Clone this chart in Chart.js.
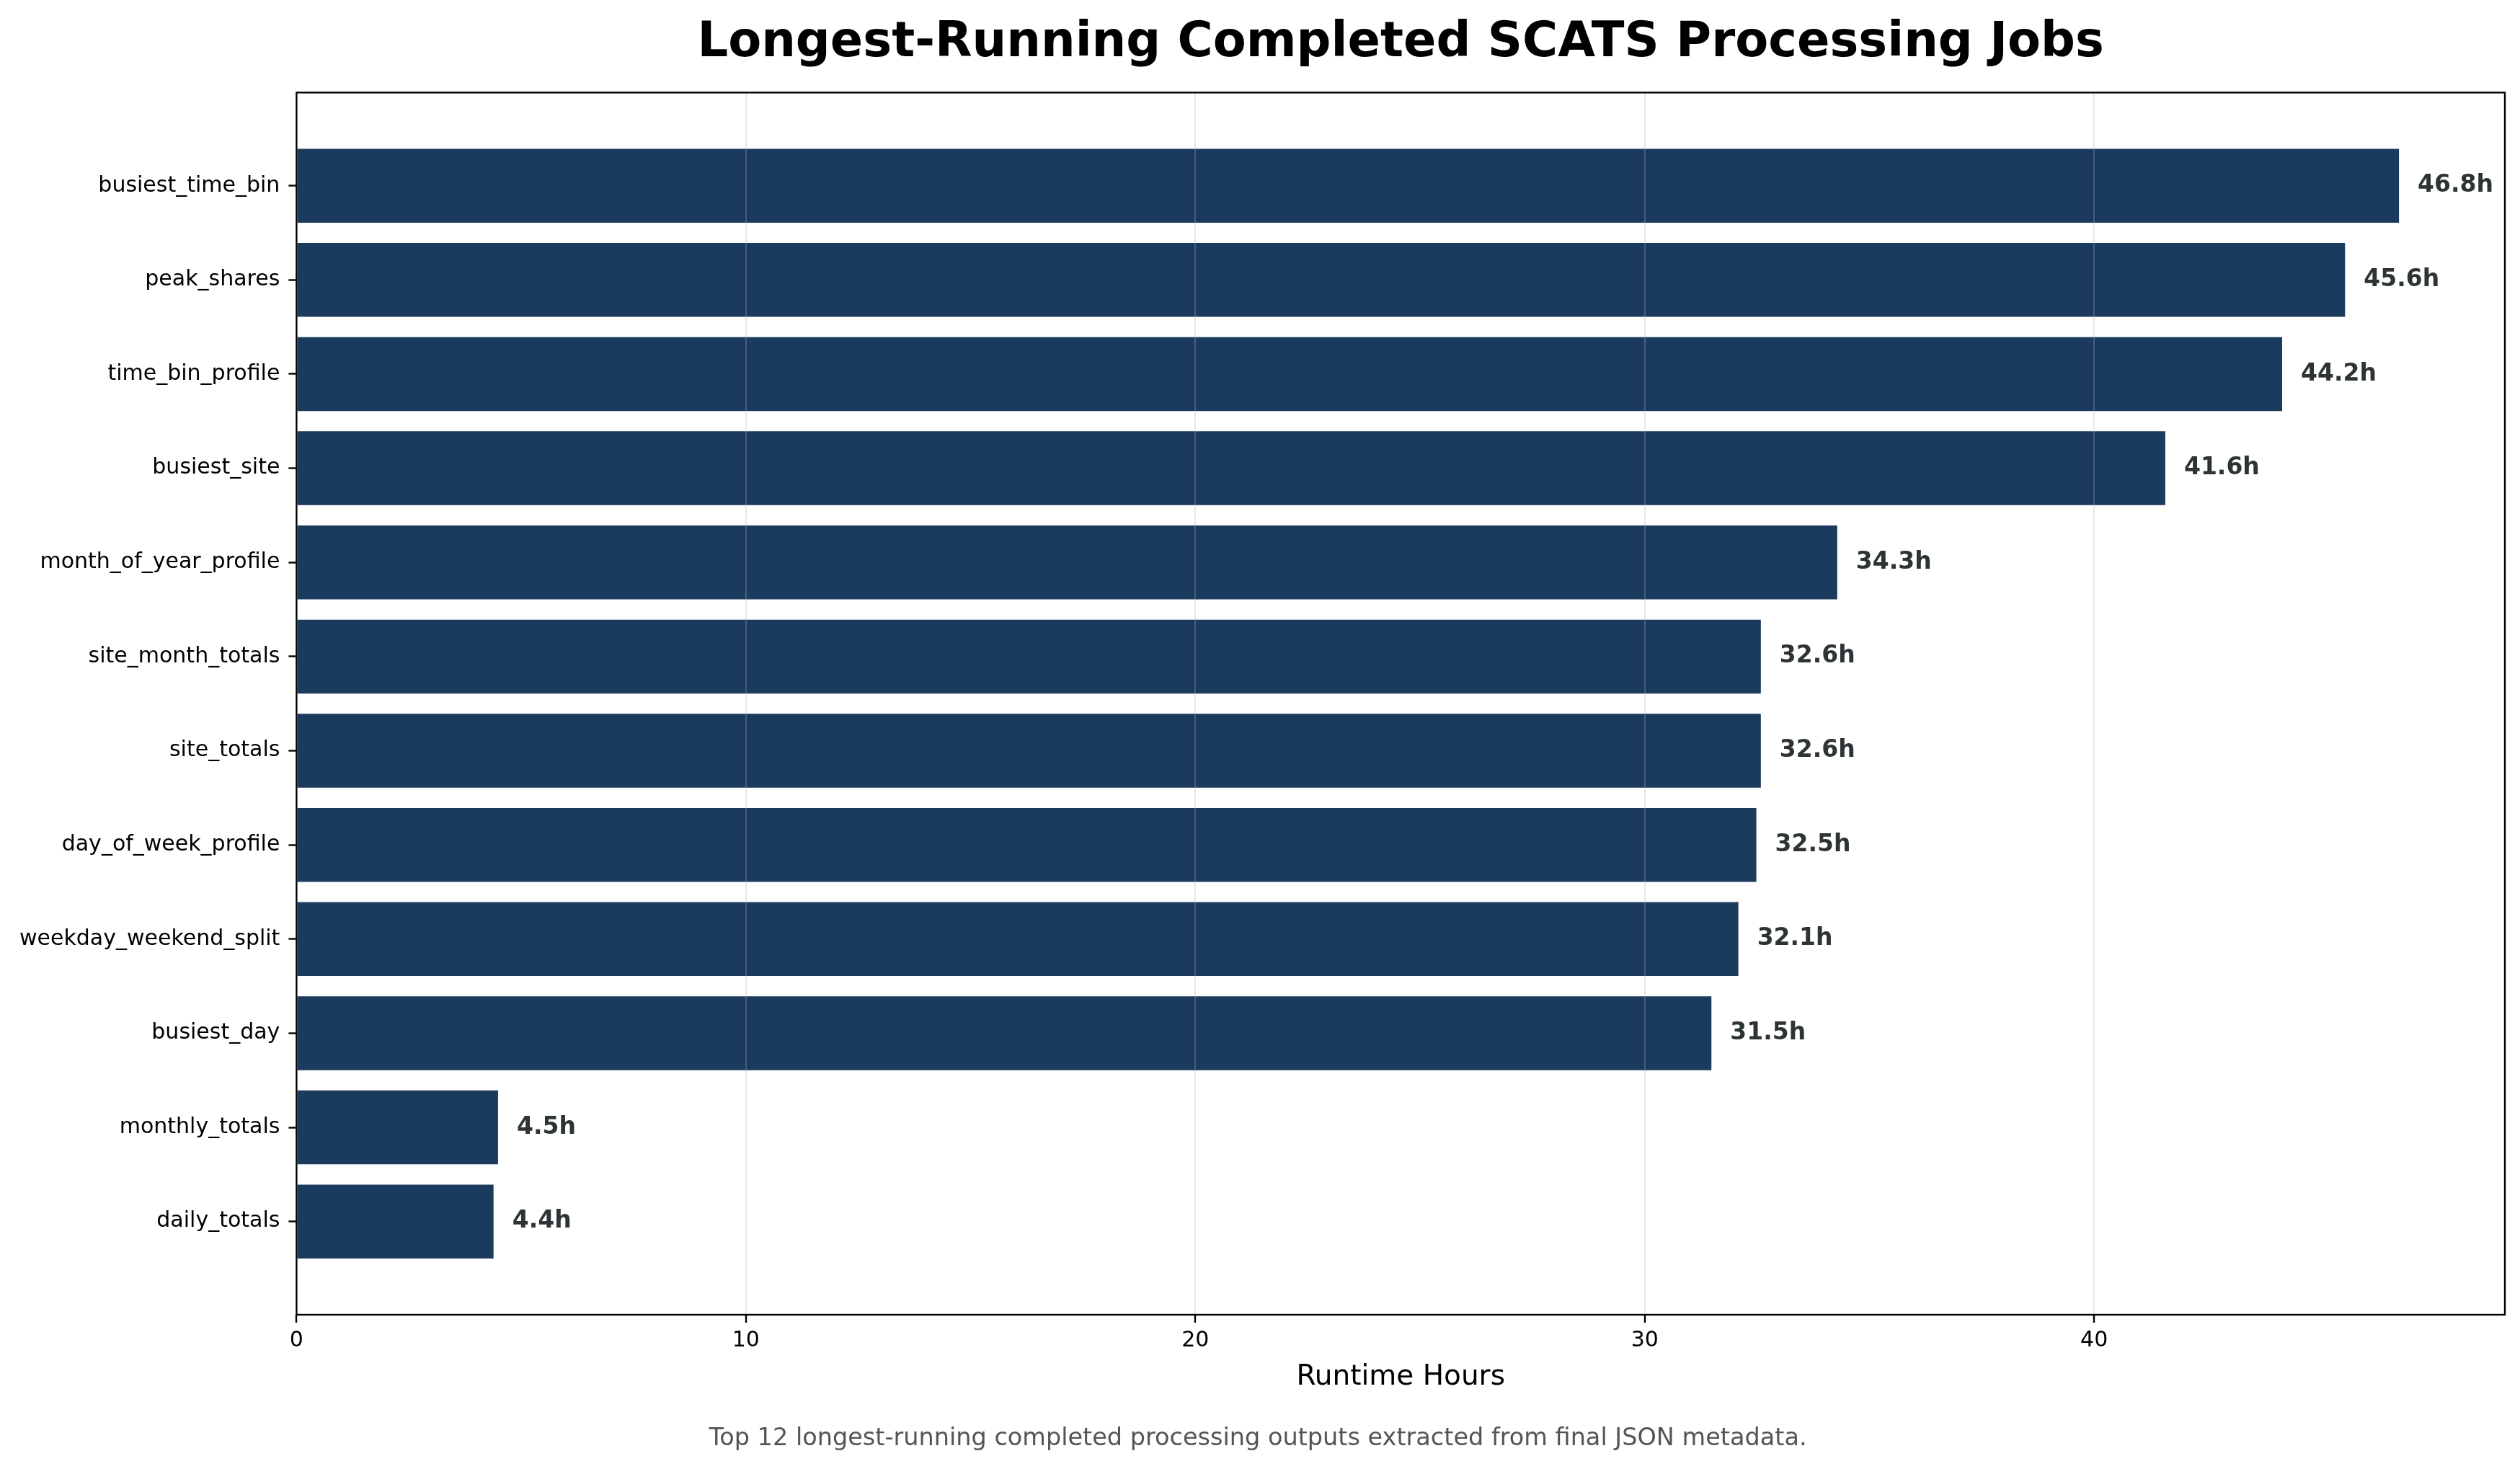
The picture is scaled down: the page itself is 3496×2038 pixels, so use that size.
<!DOCTYPE html>
<html>
<head>
<meta charset="utf-8">
<script src="https://cdn.jsdelivr.net/npm/chart.js@4"></script>
<style>
    body { margin: 0; background: #ffffff; }
</style>
</head>
<body>
<canvas id="grafico" width="3496" height="2038"></canvas>
<script>
const jobNames = [
    "busiest_time_bin", "peak_shares", "time_bin_profile", "busiest_site",
    "month_of_year_profile", "site_month_totals", "site_totals", "day_of_week_profile",
    "weekday_weekend_split", "busiest_day", "monthly_totals", "daily_totals"
];
const runtimeHours = [46.8, 45.6, 44.2, 41.6, 34.3, 32.6, 32.6, 32.5, 32.1, 31.5, 4.5, 4.4];
const xTicks = [0, 10, 20, 30, 40];

const chartTitle = "Longest-Running Completed SCATS Processing Jobs";
const caption = "Top 12 longest-running completed processing outputs extracted from final JSON metadata.";

Chart.defaults.font.family = "'DejaVu Sans', sans-serif";
Chart.defaults.color = "#000000";

// marco negro alrededor del area del grafico
const marco = {
    id: "marco",
    afterDraw(chart) {
        const { ctx, chartArea: a } = chart;
        ctx.save();
        ctx.strokeStyle = "#000000";
        ctx.lineWidth = 2.4;
        ctx.strokeRect(a.left, a.top, a.right - a.left, a.bottom - a.top);
        ctx.restore();
    }
};

// etiquetas de valor al final de cada barra
const etiquetas = {
    id: "etiquetas",
    afterDatasetsDraw(chart) {
        const { ctx } = chart;
        const meta = chart.getDatasetMeta(0);
        ctx.save();
        ctx.font = "bold 33px 'DejaVu Sans', sans-serif";
        ctx.fillStyle = "#2d3436";
        ctx.textAlign = "left";
        ctx.textBaseline = "middle";
        meta.data.forEach((bar, i) => {
            ctx.fillText(runtimeHours[i].toFixed(1) + "h", bar.x + 25, bar.y);
        });
        ctx.restore();
    }
};

new Chart(document.getElementById("grafico"), {
    type: "bar",
    data: {
        datasets: [{
            data: runtimeHours.map((v, i) => ({ x: v, y: i })),
            backgroundColor: "#1a3a5e",
            borderColor: "#ffffff",
            borderWidth: 1,
            categoryPercentage: 1,
            barPercentage: 0.8
        }]
    },
    options: {
        indexAxis: "y",
        responsive: false,
        devicePixelRatio: 1,
        animation: false,
        layout: { padding: { left: 15, right: 21, top: 0, bottom: 0 } },
        plugins: {
            legend: { display: false },
            tooltip: { enabled: false },
            title: {
                display: true,
                text: chartTitle,
                fullSize: false,
                color: "#000000",
                font: { size: 67, weight: "bold" },
                padding: { top: 20, bottom: 28 }
            },
            subtitle: {
                display: true,
                text: caption,
                position: "bottom",
                color: "#555555",
                font: { size: 33.5 },
                padding: { top: 42, bottom: 22 }
            }
        },
        scales: {
            x: {
                type: "linear",
                min: 0,
                max: 49.14,
                afterBuildTicks: axis => { axis.ticks = xTicks.map(v => ({ value: v })); },
                ticks: { font: { size: 30 }, color: "#000000", padding: 7 },
                grid: {
                    color: "rgba(176,176,176,0.3)",
                    lineWidth: 2,
                    tickColor: "#000000",
                    tickLength: 11,
                    tickWidth: 2.4,
                    z: 1
                },
                border: { display: false },
                title: {
                    display: true,
                    text: "Runtime Hours",
                    color: "#000000",
                    font: { size: 39 },
                    padding: { top: 2, bottom: 0 }
                }
            },
            y: {
                type: "linear",
                reverse: true,
                offset: false,
                min: -0.99,
                max: 11.99,
                afterBuildTicks: axis => { axis.ticks = jobNames.map((_, i) => ({ value: i })); },
                ticks: {
                    font: { size: 30 },
                    color: "#000000",
                    padding: 12,
                    callback: value => jobNames[value]
                },
                grid: {
                    offset: false,
                    drawOnChartArea: false,
                    color: "#000000",
                    tickColor: "#000000",
                    tickLength: 11,
                    tickWidth: 2.4
                },
                border: { display: false }
            }
        }
    },
    plugins: [marco, etiquetas]
});
</script>
</body>
</html>
